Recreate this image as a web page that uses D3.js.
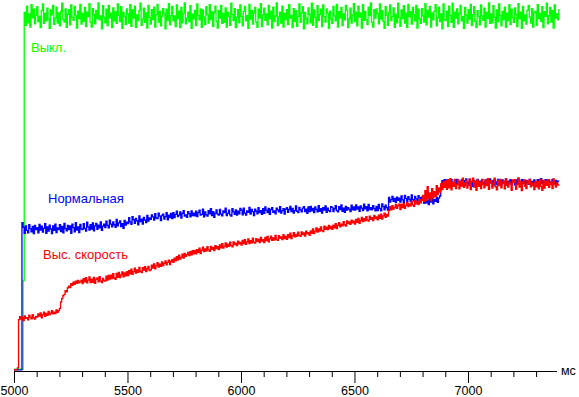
<!DOCTYPE html>
<html>
<head>
<meta charset="utf-8">
<script src="https://cdn.jsdelivr.net/npm/d3@7"></script>
<style>
  body { margin: 0; background: #fff; }
  text { font-family: Arial, "Liberation Sans", sans-serif; }
</style>
</head>
<body>
<div class="chart"></div>
<script>
// DATA (sampled every 5 ms starting at 5000 ms, values in % of full level)
const TIME_START = 5000;
const TIME_STEP = 5;

const MAJOR_TICKS = [5000, 5500, 6000, 6500, 7000];
const MINOR_TICKS = [5100, 5200, 5300, 5400, 5600, 5700, 5800, 5900, 6100, 6200, 6300, 6400,
                     6600, 6700, 6800, 6900, 7100, 7200, 7300];
const UNIT_LABEL = "мс";
const SERIES_NAMES = ["Выкл.", "Нормальная", "Выс. скорость"];

// one row = 100 ms
const OFF_VALUES = [
  0.5,0.5,0.5,0.5,0.5,0.5,0.5,0.5,25.5,101.0, 97.4,102.8,98.1,100.6,96.9,103.2,99.5,101.9,97.8,100.2,
  102.6,98.4,99.9,96.7,101.5,103.4,97.9,100.8,98.6,102.2, 99.1,96.5,101.7,100.3,103.0,97.6,99.4,102.5,98.0,100.9,
  97.2,101.3,103.6,99.0,98.3,102.0,96.8,100.5,101.8,97.5, 103.1,99.6,98.8,102.7,100.1,96.6,101.4,99.2,103.3,97.7,
  100.7,98.5,102.4,97.0,101.1,99.8,103.5,98.2,96.9,102.1, 100.4,97.8,101.6,99.3,103.7,98.9,100.0,96.4,102.9,99.7,
  98.1,101.9,97.3,103.0,99.5,100.8,96.7,102.3,98.6,101.2, 97.9,103.4,100.2,98.4,102.6,96.5,101.0,99.9,97.6,102.0,
  100.6,98.0,103.2,97.1,101.7,99.4,102.8,96.8,100.3,98.7, 101.5,103.6,97.4,99.1,102.2,98.2,100.9,96.6,103.0,99.6,
  97.7,101.8,99.0,102.5,96.9,100.4,103.3,98.3,101.3,97.2, 99.8,102.1,100.7,96.4,101.9,98.8,103.5,97.5,100.1,102.7,
  98.6,100.0,97.0,103.1,99.3,101.4,96.7,102.4,98.1,100.8, 103.7,97.8,99.5,101.1,98.4,102.9,96.5,100.5,99.2,101.6,
  97.3,103.4,100.2,98.9,102.0,96.8,101.7,99.7,97.6,102.6, 100.3,98.0,103.2,99.0,101.2,97.1,100.9,102.8,98.5,96.6,
  101.5,99.4,103.0,97.9,100.7,98.2,102.3,96.9,101.0,99.8, 97.4,103.6,100.4,98.7,102.1,96.7,99.6,101.8,98.1,103.1,
  99.9,97.2,101.3,102.7,98.6,100.1,96.5,103.3,99.1,101.6, 97.7,100.8,102.4,98.3,96.8,101.9,99.5,103.5,97.0,100.3,
  102.2,98.8,100.6,97.5,103.0,99.2,101.4,96.6,102.5,98.4, 100.0,103.7,97.3,99.7,101.1,98.0,102.8,96.9,100.7,99.0,
  101.8,97.6,103.2,99.4,100.2,96.7,102.1,98.5,101.5,97.1, 99.9,103.4,98.2,100.9,102.6,96.4,101.0,99.3,97.8,102.3,
  100.5,98.1,103.6,97.4,101.7,99.6,96.8,102.9,98.7,100.4, 101.9,97.0,103.1,99.8,98.3,102.0,100.8,96.5,101.4,99.1,
  97.9,102.7,100.0,98.6,103.3,96.9,101.2,99.5,102.4,97.3, 100.6,98.9,103.0,101.6,96.7,99.2,102.2,98.0,100.3,103.5,
  98.4,101.1,97.2,102.8,99.7,100.9,96.6,103.2,98.8,101.3, 99.0,97.6,102.5,100.1,103.7,98.2,96.9,101.8,99.4,102.0,
  100.7,97.8,103.4,99.1,101.5,98.5,96.5,102.6,100.2,97.4, 101.0,103.1,98.7,99.9,102.3,96.8,100.5,98.1,103.6,99.6,
  97.1,101.7,99.3,102.9,98.0,100.8,96.7,103.3,99.8,101.2, 97.7,102.4,100.4,98.6,103.0,96.6,101.9,99.2,97.9,102.1,
  100.0,98.3,103.5,97.5,101.6,99.7,102.7,96.9,100.9,98.9, 101.3,103.2,97.2,99.5,102.5,98.4,100.6,96.4,103.4,99.0,
  98.7,101.4,97.0,102.8,100.1,98.2,103.6,96.8,101.1,99.4, 102.0,97.8,100.7,103.0,98.6,99.9,96.5,102.4,100.3,98.0,
  101.8,99.1,103.3,97.3,100.4,102.6,98.5,96.7,101.5,99.8, 97.5,103.1,100.0,98.8,102.2,96.9,101.0,99.3,103.7,97.9,
  100.6,98.1,102.9,99.6,96.6,101.7,98.4,103.4,100.2,97.2, 101.3,99.0,102.5,96.8,100.8,98.7,103.2,97.6,101.9,99.5,
  98.2,102.3,100.5,97.0,103.5,99.2,101.1,96.5,102.7,98.6, 100.3,97.7,101.6,103.0,99.7,98.0,102.1,96.9,100.9,101.4,
  97.4,103.2,99.3,100.7,98.5,102.6,96.7,101.2,99.9,103.6, 97.8,100.1,102.4,98.3,101.5,96.6,103.1,99.4,100.6,98.9,
  102.0
];

const NORMAL_VALUES = [
  0.3,0.3,0.3,0.3,0.3,0.3,0.3,41.8,40.5,38.8, 40.9,39.6,38.9,41.2,40.1,39.2,40.7,38.7,41.0,39.8,
  40.4,38.9,41.3,39.7,40.8,39.1,40.2,41.5,38.8,40.6, 39.4,41.1,40.0,38.7,40.9,39.6,41.4,39.0,40.3,39.8,
  41.2,39.3,40.7,38.9,41.6,40.1,39.5,41.0,39.8,40.9, 38.8,41.4,40.4,39.2,41.8,39.7,40.6,39.0,41.3,40.0,
  39.8,41.5,40.2,39.4,41.9,40.6,39.7,41.2,40.0,41.7, 39.5,40.9,41.6,39.9,41.1,40.3,42.0,39.6,40.8,41.4,
  40.4,42.2,41.0,40.3,42.5,41.4,40.6,42.0,41.2,40.5, 42.7,40.9,41.7,42.3,40.7,41.5,40.2,42.4,41.1,41.9,
  41.5,43.2,42.0,41.3,43.5,42.6,41.6,43.0,42.3,41.2, 43.7,42.1,42.8,41.4,43.3,42.5,41.8,43.8,42.2,43.1,
  42.7,44.0,43.4,42.5,44.3,43.1,42.9,44.5,43.6,42.4, 43.8,44.2,42.8,43.5,44.6,42.6,43.9,43.2,44.4,42.9,
  44.6,43.2,44.1,45.0,43.5,43.9,44.8,43.1,44.4,45.2, 43.6,44.0,43.3,44.9,44.3,43.4,45.1,43.8,44.5,43.7,
  45.0,43.5,44.6,45.3,43.9,44.1,45.6,43.4,44.8,44.0, 43.6,45.2,44.3,45.7,43.8,44.9,43.3,44.5,45.4,44.2,
  43.9,45.5,44.2,43.7,45.1,44.6,45.9,43.8,44.4,45.3, 44.0,43.6,45.7,44.8,44.1,45.4,43.9,45.0,44.3,45.8,
  45.3,44.0,45.9,44.5,43.9,45.1,44.7,46.1,44.2,45.5, 44.9,43.8,45.6,45.0,44.3,46.0,44.6,45.2,44.1,45.7,
  44.4,46.2,45.3,44.6,45.8,44.1,45.5,46.0,44.7,45.1, 44.3,45.9,45.4,44.8,46.3,44.5,45.2,45.7,44.2,45.6,
  46.0,44.7,45.5,46.4,44.9,45.8,44.5,45.2,46.5,45.0, 44.6,46.1,45.4,44.8,45.9,46.3,44.9,45.6,44.4,46.2,
  44.9,46.4,45.1,45.8,44.6,46.2,45.5,44.8,46.6,45.0, 45.7,44.5,46.0,45.3,46.5,44.7,45.9,45.2,44.9,46.3,
  46.1,44.9,45.7,46.6,45.2,44.8,46.3,45.5,46.8,45.0, 45.9,44.7,46.4,45.3,46.0,45.6,44.9,46.7,45.4,46.2,
  45.3,46.8,45.6,46.2,45.0,46.5,45.9,45.2,47.0,45.7, 46.3,45.1,46.9,45.5,46.0,45.4,46.6,45.8,45.1,46.4,
  45.2,46.9,45.8,45.1,47.1,46.3,45.4,46.7,46.0,45.3, 48.9,47.6,48.3,49.2,47.8,48.6,47.5,49.0,48.1,48.7,
  47.6,49.3,48.2,47.5,49.5,48.6,47.8,49.1,48.4,47.7, 49.6,48.3,47.9,49.2,48.5,47.6,49.4,48.8,48.0,49.0,
  48.6,47.2,48.9,47.4,48.1,46.9,48.5,47.6,48.8,47.1, 48.3,47.8,49.0,47.5,48.7,49.3,52.4,53.6,52.8,53.9,
  52.3,53.8,52.6,53.5,52.1,53.9,53.0,52.4,53.7,52.7, 54.0,52.5,53.3,52.2,53.8,52.9,53.6,52.3,54.1,53.0,
  52.6,53.9,52.4,53.4,52.0,53.7,53.1,52.5,54.0,52.8, 53.5,52.2,53.9,53.0,52.6,53.8,52.3,53.4,52.7,54.1,
  52.9,53.6,52.2,53.9,52.5,53.3,54.0,52.6,53.7,52.4, 53.8,52.9,53.2,54.1,52.3,53.5,52.8,53.9,52.5,53.6,
  53.2,52.4,53.8,52.7,54.1,53.0,52.5,53.9,52.8,53.6, 52.3,53.7,53.1,52.6,54.0,52.9,53.4,52.2,53.8,53.1,
  52.7,53.9,52.5,53.4,54.2,52.8,53.6,52.4,53.9,53.0, 52.6,53.8,53.2,52.5,54.0,53.1,52.7,53.7,52.9,53.5,
  53.4
];

const FAST_VALUES = [
  0.3,0.3,0.3,0.9,14.5,15.3,14.6,15.1,14.2,15.5, 14.8,15.0,14.4,15.7,15.2,14.7,15.9,15.0,14.6,15.4,
  15.2,16.1,15.5,16.4,15.0,15.9,16.6,15.4,16.2,15.7, 16.8,15.9,16.3,17.0,16.1,16.6,16.2,17.2,16.5,17.0,
  17.6,19.5,20.4,21.2,21.6,22.6,22.3,23.4,23.9,23.5, 24.6,24.1,25.0,24.4,25.3,24.7,25.5,24.8,25.1,25.6,
  24.6,26.0,25.1,26.3,24.8,25.6,26.5,24.9,25.9,25.0, 26.4,24.7,25.8,26.2,25.1,26.6,25.3,24.9,26.1,25.5,
  25.3,26.7,25.6,26.9,25.9,27.0,26.0,27.4,26.2,25.8, 27.5,26.4,27.8,26.3,27.1,27.9,26.5,27.6,26.8,28.0,
  26.9,28.3,27.4,28.7,27.2,28.0,29.0,27.6,28.5,27.8, 29.2,28.1,27.7,29.1,28.4,29.4,28.0,28.8,29.5,28.3,
  28.5,29.8,29.0,30.2,28.8,29.6,30.5,29.3,30.1,29.5, 30.7,29.7,30.3,31.0,29.9,30.6,31.2,30.0,30.9,31.4,
  30.6,31.8,31.0,32.2,31.3,32.6,31.5,32.0,32.9,31.8, 33.1,32.3,32.8,33.4,32.5,33.6,32.7,33.9,33.0,34.0,
  33.0,34.2,33.4,34.6,33.1,34.0,34.9,33.6,34.4,33.8, 35.0,34.1,33.7,35.1,34.3,34.8,33.9,35.3,34.5,35.0,
  34.2,35.5,34.7,35.9,34.6,35.2,36.1,34.9,35.7,35.1, 36.3,35.4,35.0,36.4,35.6,36.0,35.3,36.6,35.8,36.2,
  35.5,36.8,35.9,37.0,35.7,36.4,37.2,35.9,36.7,36.1, 37.4,36.3,36.0,37.3,36.5,37.1,36.2,37.6,36.6,37.0,
  36.2,37.6,36.7,37.9,36.4,37.2,38.0,36.8,37.5,36.9, 38.2,37.1,36.8,38.1,37.4,37.8,37.0,38.4,37.3,37.9,
  37.1,38.4,37.6,38.8,37.3,38.1,39.0,37.8,38.5,37.9, 39.1,38.2,37.9,39.2,38.4,38.9,38.0,39.4,38.6,39.0,
  38.2,39.5,38.8,40.0,38.7,39.4,40.3,39.1,40.0,39.4, 40.6,39.6,39.3,40.8,39.9,40.5,39.8,41.0,40.1,40.7,
  39.9,41.1,40.3,41.5,40.1,41.0,41.8,40.6,41.4,40.9, 42.1,41.2,40.8,42.3,41.5,42.0,41.3,42.5,41.7,42.2,
  41.4,42.7,41.9,43.0,41.6,42.4,43.3,42.1,42.9,42.3, 43.5,42.5,42.2,43.6,42.7,43.2,42.4,43.8,42.9,43.4,
  42.6,43.9,43.0,44.2,42.8,43.7,44.5,43.3,44.1,43.6, 45.2,46.3,45.4,46.6,45.6,46.1,46.9,45.8,46.5,47.0,
  45.5,46.9,46.0,47.2,45.8,46.6,47.5,46.3,47.1,46.5, 47.8,46.8,46.4,48.0,47.1,47.6,46.9,48.3,47.4,48.1,
  49.5,47.7,50.8,48.1,51.9,48.6,50.2,47.9,51.4,48.8, 50.5,49.2,52.2,49.7,51.6,50.4,52.8,51.1,53.3,51.7,
  53.6,51.2,53.9,51.6,54.2,51.0,53.1,52.0,54.0,51.4, 52.6,53.8,51.3,53.4,52.1,54.3,51.7,52.9,53.7,51.5,
  52.3,54.1,51.1,53.3,54.3,51.8,53.5,50.9,53.8,52.0, 53.2,51.4,54.0,52.5,51.6,53.7,52.2,54.2,51.2,53.0,
  53.6,51.5,52.8,54.3,51.9,51.0,53.7,52.2,54.0,51.6, 52.9,53.5,51.3,54.1,52.4,51.8,53.3,52.7,50.9,53.8,
  53.1,53.9,51.2,52.6,54.4,51.8,53.5,50.8,53.2,53.9, 52.0,51.4,53.6,52.7,54.0,51.9,53.0,52.3,51.1,53.4,
  51.9,53.4,51.3,54.0,52.0,50.9,53.7,51.5,53.4,52.3, 53.9,51.7,52.6,53.2,51.4,54.1,52.5,51.8,53.0,52.4,
  52.2
];

// GLOBAL CONSTANTS
const FRAME_WIDTH = 579;
const FRAME_HEIGHT = 397;
const AXIS_Y = 371;
const AXIS_END = 7390;

const SERIES = [
  {name: SERIES_NAMES[0], values: OFF_VALUES, color: "#00ff00", labelX: 31, labelY: 52},
  {name: SERIES_NAMES[1], values: NORMAL_VALUES, color: "#0000ff", labelX: 48, labelY: 203},
  {name: SERIES_NAMES[2], values: FAST_VALUES, color: "#ff0000", labelX: 43, labelY: 259}
];

const FRAME = d3.select(".chart")
                .append("svg")
                  .attr("width", FRAME_WIDTH)
                  .attr("height", FRAME_HEIGHT);

FRAME.append("rect")
     .attr("width", FRAME_WIDTH)
     .attr("height", FRAME_HEIGHT)
     .attr("fill", "#fff");

// scales
const X_SCALE = d3.scaleLinear()
                  .domain([TIME_START, AXIS_END])
                  .range([14, 556.5]);

const Y_SCALE = d3.scaleLinear()
                  .domain([0, 100])
                  .range([AXIS_Y, 16]);

// minor ticks
FRAME.append("g")
     .attr("transform", "translate(0," + AXIS_Y + ")")
     .call(d3.axisBottom(X_SCALE).tickValues(MINOR_TICKS).tickSize(6).tickSizeOuter(0).tickFormat(""))
     .call(g => g.select(".domain").remove());

// major ticks with labels
FRAME.append("g")
     .attr("transform", "translate(0," + AXIS_Y + ")")
     .call(d3.axisBottom(X_SCALE).tickValues(MAJOR_TICKS).tickSize(12).tickSizeOuter(0)
             .tickFormat(d3.format("d")).tickPadding(3))
     .call(g => g.select(".domain").attr("stroke", "#000"))
     .selectAll("text")
       .attr("font-size", "12.5px")
       .attr("fill", "#000")
       .attr("font-family", "Arial, 'Liberation Sans', sans-serif");

FRAME.append("text")
     .attr("x", 561)
     .attr("y", 375)
     .attr("font-size", "12.5px")
     .attr("fill", "#000")
     .text(UNIT_LABEL);

// lines (sample-and-hold, like the recorder output)
const LINE = d3.line()
               .x((d, i) => X_SCALE(TIME_START + i * TIME_STEP))
               .y((d) => Y_SCALE(d))
               .curve(d3.curveStepAfter);

FRAME.selectAll(".series")
     .data(SERIES)
     .enter()
     .append("path")
       .attr("class", "series")
       .attr("d", (d) => LINE(d.values))
       .attr("fill", "none")
       .attr("stroke", (d) => d.color)
       .attr("stroke-width", 1.3);

// labels
FRAME.selectAll(".label")
     .data(SERIES)
     .enter()
     .append("text")
       .attr("class", "label")
       .attr("x", (d) => d.labelX)
       .attr("y", (d) => d.labelY)
       .attr("font-size", "13px")
       .attr("fill", (d) => d.color)
       .text((d) => d.name);
</script>
</body>
</html>
